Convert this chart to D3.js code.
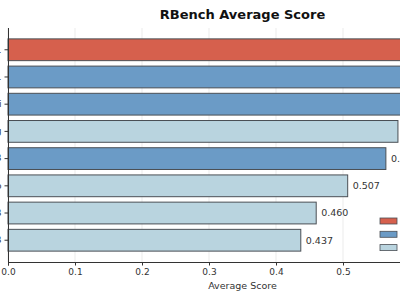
<!DOCTYPE html>
<html>
<head>
<meta charset="utf-8">
<script src="https://cdn.jsdelivr.net/npm/d3@7"></script>
<style>
  html, body { margin: 0; padding: 0; background: #fff; overflow: hidden; }
  svg { display: block; font-family: "DejaVu Sans", sans-serif; }
</style>
</head>
<body>
<div id="chart"></div>
<script>
// RBench average score, horizontal bars (view is cropped like the reference)
const models = ["o1", "DeepSeek-R1", "o3-mini", "Gemini-2.0-Flash-Thinking", "QwQ-32B", "GPT-4o", "Qwen2.5-72B", "Llama-3.1-70B"];
const scores = [0.652, 0.621, 0.603, 0.582, 0.564, 0.507, 0.460, 0.437];
const groups = ["top", "reasoning", "reasoning", "chat", "reasoning", "chat", "chat", "chat"];
const groupNames = ["top", "reasoning", "chat"];
const xTicks = [0, 0.1, 0.2, 0.3, 0.4, 0.5, 0.6, 0.7];

const W = 400, H = 300;
const M = { top: 28, left: 8, bottom: 38 };
const colors = { top: "#d6604d", reasoning: "#6b9bc6", chat: "#b9d4df" };

const svg = d3.select("#chart").append("svg")
  .attr("width", W).attr("height", H);

const x = d3.scaleLinear().domain([0, 0.7]).range([M.left, 477]);
const y = d3.scaleBand().domain(models).range([M.top, H - M.bottom])
  .paddingInner(0.2).paddingOuter(0.4);

// grid
svg.append("g").selectAll("line").data(xTicks).join("line")
  .attr("x1", d => x(d)).attr("x2", d => x(d))
  .attr("y1", M.top).attr("y2", H - M.bottom)
  .attr("stroke", "#e6e6e6").attr("stroke-width", 0.8);

// bars
svg.append("g").selectAll("rect").data(models).join("rect")
  .attr("x", x(0))
  .attr("y", d => y(d))
  .attr("width", (d, i) => x(scores[i]) - x(0))
  .attr("height", y.bandwidth())
  .attr("fill", (d, i) => colors[groups[i]])
  .attr("stroke", "#4a4f55")
  .attr("stroke-width", 1);

// value labels
svg.append("g").selectAll("text").data(models).join("text")
  .attr("x", (d, i) => x(scores[i]) + 5)
  .attr("y", d => y(d) + y.bandwidth() / 2)
  .attr("dy", "0.35em")
  .attr("fill", "#333")
  .style("font-size", "9.5px")
  .text((d, i) => scores[i].toFixed(3));

// x axis
const xAxis = svg.append("g")
  .attr("transform", `translate(0,${H - M.bottom})`)
  .call(d3.axisBottom(x).tickValues(xTicks).tickFormat(d3.format(".1f")).tickSize(3.5).tickPadding(3));
xAxis.select(".domain").attr("stroke", "#333");
xAxis.selectAll(".tick line").attr("stroke", "#333");
xAxis.selectAll(".tick text").attr("fill", "#333").style("font-size", "9px")
  .style("font-family", "DejaVu Sans, sans-serif");

// y axis
const yAxis = svg.append("g")
  .attr("transform", `translate(${M.left},0)`)
  .call(d3.axisLeft(y).tickSize(3.5).tickPadding(3));
yAxis.select(".domain").attr("stroke", "#333").attr("d", `M0.5,${M.top}V${H - M.bottom}`);
yAxis.selectAll(".tick line").attr("stroke", "#333");
yAxis.selectAll(".tick text").attr("fill", "#333").style("font-size", "9px")
  .style("font-family", "DejaVu Sans, sans-serif");

// axis title
svg.append("text")
  .attr("x", (x(0) + x(0.7)) / 2).attr("y", 289)
  .attr("text-anchor", "middle").attr("fill", "#333")
  .style("font-size", "9.5px")
  .text("Average Score");

// chart title
svg.append("text")
  .attr("x", (x(0) + x(0.7)) / 2).attr("y", 19)
  .attr("text-anchor", "middle").attr("fill", "#111")
  .style("font-size", "13px").style("font-weight", "bold")
  .text("RBench Average Score");

// legend (swatches visible, labels fall outside the view)
const legend = svg.append("g").attr("transform", "translate(380,218)");
groupNames.forEach((g, i) => {
  legend.append("rect")
    .attr("x", 0).attr("y", i * 13.3)
    .attr("width", 17).attr("height", 6)
    .attr("fill", colors[g]).attr("stroke", "#4a4f55").attr("stroke-width", 0.8);
  legend.append("text")
    .attr("x", 24).attr("y", i * 13.3 + 3).attr("dy", "0.35em")
    .attr("fill", "#333").style("font-size", "9px")
    .text(g);
});
</script>
</body>
</html>
